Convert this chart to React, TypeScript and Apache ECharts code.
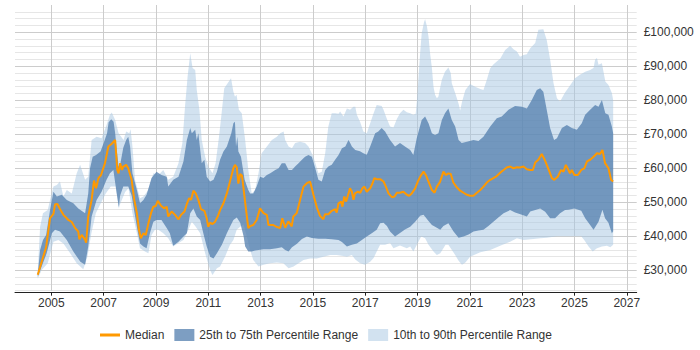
import React, { useEffect, useRef } from "react";
import * as echarts from "echarts";

// Salary percentiles over time, values in £ thousands, points are [year, value].
const medianPts: number[][] = [
  [2004.48, 28.7], [2004.63, 32.5], [2004.8, 36.8], [2004.95, 45.3], [2005.08, 46.6], [2005.14, 49.4], [2005.23, 49.5],
  [2005.33, 48.0], [2005.46, 46.3], [2005.59, 45.3], [2005.65, 44.8], [2005.78, 44.2], [2005.91, 42.4], [2006.03, 41.4],
  [2006.07, 39.1], [2006.16, 40.4], [2006.29, 39.0], [2006.33, 38.1], [2006.41, 45.8], [2006.54, 50.7], [2006.63, 56.4],
  [2006.71, 54.1], [2006.8, 57.1], [2006.9, 58.0], [2007.05, 61.5], [2007.18, 66.4], [2007.31, 67.2], [2007.44, 68.3],
  [2007.52, 59.5], [2007.57, 58.5], [2007.63, 61.5], [2007.7, 59.5], [2007.75, 60.5], [2007.86, 61.0], [2007.94, 60.0],
  [2008.07, 56.6], [2008.17, 50.7], [2008.27, 46.8], [2008.35, 41.9], [2008.42, 39.4], [2008.52, 40.9], [2008.61, 40.4],
  [2008.71, 43.8], [2008.81, 46.8], [2008.9, 48.7], [2008.99, 48.9], [2009.07, 50.4], [2009.2, 48.9], [2009.32, 48.2],
  [2009.41, 48.7], [2009.47, 45.8], [2009.6, 47.3], [2009.73, 46.3], [2009.86, 45.0], [2009.96, 46.3], [2010.09, 47.3],
  [2010.18, 49.5], [2010.27, 51.2], [2010.34, 50.7], [2010.43, 53.4], [2010.52, 52.6], [2010.62, 50.7], [2010.72, 48.0],
  [2010.85, 47.5], [2010.94, 45.3], [2011.0, 42.8], [2011.07, 44.0], [2011.16, 43.6], [2011.26, 44.3], [2011.36, 45.8],
  [2011.45, 47.7], [2011.58, 49.7], [2011.71, 52.6], [2011.83, 56.1], [2011.96, 60.0], [2012.02, 61.0], [2012.09, 60.3],
  [2012.15, 55.5], [2012.22, 58.3], [2012.29, 57.8], [2012.41, 50.0], [2012.53, 42.4], [2012.6, 43.0], [2012.72, 43.3],
  [2012.85, 44.8], [2012.98, 48.2], [2013.11, 46.8], [2013.24, 46.3], [2013.3, 43.3], [2013.49, 43.3], [2013.6, 42.8],
  [2013.75, 42.4], [2013.83, 45.3], [2013.94, 42.5], [2014.06, 44.4], [2014.19, 42.9], [2014.25, 45.8], [2014.38, 46.8],
  [2014.51, 50.7], [2014.64, 54.6], [2014.77, 55.6], [2014.89, 56.1], [2014.96, 54.1], [2015.02, 52.2], [2015.15, 48.5],
  [2015.27, 46.0], [2015.4, 45.0], [2015.46, 46.5], [2015.59, 46.5], [2015.72, 47.5], [2015.85, 48.0], [2015.91, 47.0],
  [2015.98, 49.7], [2016.08, 50.2], [2016.13, 48.7], [2016.2, 51.7], [2016.27, 50.2], [2016.36, 52.6], [2016.42, 54.1],
  [2016.49, 53.1], [2016.55, 50.7], [2016.61, 52.6], [2016.72, 53.1], [2016.81, 52.8], [2016.89, 54.1], [2016.97, 54.6],
  [2017.06, 53.1], [2017.19, 54.1], [2017.28, 55.6], [2017.35, 57.1], [2017.44, 56.8], [2017.57, 56.8], [2017.7, 56.1],
  [2017.79, 54.6], [2017.89, 52.6], [2018.02, 51.5], [2018.12, 51.7], [2018.21, 52.8], [2018.33, 52.8], [2018.46, 53.1],
  [2018.59, 52.2], [2018.68, 51.9], [2018.78, 52.6], [2018.91, 54.1], [2019.01, 56.1], [2019.14, 58.0], [2019.23, 59.0],
  [2019.32, 58.0], [2019.42, 56.1], [2019.55, 53.6], [2019.65, 52.8], [2019.74, 54.6], [2019.86, 56.0], [2019.99, 59.0],
  [2020.09, 58.0], [2020.18, 58.5], [2020.27, 58.3], [2020.37, 55.8], [2020.5, 54.4], [2020.63, 53.4], [2020.76, 52.8],
  [2020.89, 52.2], [2021.01, 51.9], [2021.14, 51.9], [2021.27, 52.8], [2021.4, 53.6], [2021.52, 54.6], [2021.65, 55.8],
  [2021.78, 56.6], [2021.9, 57.1], [2022.03, 57.7], [2022.16, 58.7], [2022.29, 59.5], [2022.41, 60.2], [2022.54, 60.5],
  [2022.67, 60.0], [2022.8, 60.3], [2022.92, 60.2], [2023.05, 60.5], [2023.18, 59.7], [2023.31, 59.5], [2023.41, 59.5],
  [2023.5, 61.7], [2023.62, 62.5], [2023.75, 64.2], [2023.88, 62.2], [2024.01, 59.7], [2024.14, 57.1], [2024.23, 56.6],
  [2024.36, 57.5], [2024.49, 59.5], [2024.58, 59.0], [2024.67, 61.0], [2024.77, 59.5], [2024.83, 58.5], [2024.9, 59.5],
  [2025.0, 58.0], [2025.13, 58.0], [2025.26, 59.5], [2025.38, 60.0], [2025.48, 62.0], [2025.6, 62.5], [2025.73, 63.4],
  [2025.86, 64.4], [2025.98, 64.2], [2026.07, 65.4], [2026.17, 61.5], [2026.3, 60.0], [2026.4, 56.6], [2026.48, 56.1],
];

const p75Pts: number[][] = [
  [2004.48, 28.8], [2004.57, 36.0], [2004.68, 38.9], [2004.8, 40.4], [2004.95, 47.7], [2005.08, 53.1], [2005.21, 51.7],
  [2005.4, 52.2], [2005.59, 50.7], [2005.84, 49.7], [2006.03, 48.2], [2006.29, 46.8], [2006.41, 52.6], [2006.48, 60.0],
  [2006.58, 63.4], [2006.71, 63.9], [2006.88, 64.9], [2007.0, 67.4], [2007.13, 70.3], [2007.19, 73.5], [2007.29, 74.4],
  [2007.38, 73.7], [2007.44, 70.3], [2007.5, 65.4], [2007.57, 60.5], [2007.63, 61.0], [2007.75, 66.0], [2007.86, 68.3],
  [2007.94, 69.3], [2008.01, 66.4], [2008.1, 58.5], [2008.27, 53.6], [2008.39, 49.7], [2008.52, 50.7], [2008.64, 52.2],
  [2008.83, 57.1], [2009.02, 59.0], [2009.21, 58.0], [2009.41, 57.5], [2009.47, 54.6], [2009.66, 56.6], [2009.86, 57.5],
  [2010.05, 62.0], [2010.18, 68.3], [2010.31, 71.8], [2010.37, 70.3], [2010.5, 71.3], [2010.56, 68.3], [2010.62, 70.3],
  [2010.75, 61.5], [2010.85, 62.5], [2010.94, 57.5], [2011.07, 56.1], [2011.2, 56.6], [2011.33, 59.0], [2011.45, 62.5],
  [2011.58, 64.9], [2011.71, 66.4], [2011.88, 70.3], [2011.96, 73.2], [2012.02, 73.7], [2012.06, 66.4], [2012.11, 69.3],
  [2012.15, 64.9], [2012.25, 63.4], [2012.39, 56.6], [2012.53, 53.6], [2012.6, 52.6], [2012.72, 52.6], [2012.85, 54.6],
  [2012.98, 57.5], [2013.11, 57.1], [2013.24, 58.0], [2013.37, 58.5], [2013.56, 59.5], [2013.69, 60.0], [2013.81, 61.5],
  [2013.94, 61.5], [2014.07, 59.5], [2014.2, 59.5], [2014.32, 60.5], [2014.45, 61.5], [2014.58, 62.5], [2014.7, 63.4],
  [2014.83, 63.9], [2014.96, 63.4], [2015.09, 60.0], [2015.21, 56.6], [2015.34, 56.1], [2015.47, 59.5], [2015.59, 60.5],
  [2015.72, 61.0], [2015.85, 62.5], [2015.98, 63.9], [2016.11, 65.9], [2016.24, 66.4], [2016.36, 68.3], [2016.42, 67.5],
  [2016.49, 66.4], [2016.62, 65.4], [2016.8, 65.0], [2016.93, 64.4], [2017.06, 64.0], [2017.19, 66.4], [2017.38, 70.3],
  [2017.5, 70.8], [2017.63, 71.8], [2017.76, 70.8], [2017.95, 68.3], [2018.14, 66.4], [2018.33, 67.4], [2018.52, 66.4],
  [2018.72, 65.4], [2018.84, 63.9], [2018.97, 68.8], [2019.16, 74.2], [2019.29, 75.2], [2019.42, 73.2], [2019.55, 70.3],
  [2019.67, 69.8], [2019.8, 70.3], [2019.93, 74.2], [2020.05, 76.2], [2020.18, 77.6], [2020.31, 74.2], [2020.44, 72.3],
  [2020.57, 68.3], [2020.69, 67.4], [2020.89, 67.8], [2021.14, 68.3], [2021.33, 68.0], [2021.52, 69.3], [2021.78, 72.3],
  [2022.03, 74.7], [2022.22, 75.2], [2022.48, 77.2], [2022.73, 78.3], [2022.99, 78.1], [2023.18, 77.6], [2023.37, 80.1],
  [2023.56, 83.0], [2023.69, 83.5], [2023.81, 82.5], [2023.94, 77.2], [2024.07, 71.8], [2024.22, 68.3], [2024.33, 68.8],
  [2024.52, 71.8], [2024.71, 72.7], [2024.9, 71.8], [2025.09, 71.3], [2025.28, 73.2], [2025.41, 75.7], [2025.6, 77.2],
  [2025.79, 78.6], [2025.92, 78.1], [2026.05, 80.1], [2026.18, 76.2], [2026.3, 75.7], [2026.43, 72.3], [2026.48, 70.3],
];

const p25Pts: number[][] = [
  [2004.48, 28.1], [2004.63, 31.1], [2004.82, 35.0], [2005.02, 40.9], [2005.14, 41.9], [2005.33, 41.4], [2005.59, 38.9],
  [2005.84, 35.5], [2006.11, 32.5], [2006.29, 31.6], [2006.41, 37.0], [2006.54, 45.8], [2006.73, 50.7], [2006.92, 53.1],
  [2007.11, 56.6], [2007.24, 58.5], [2007.37, 59.5], [2007.5, 52.6], [2007.58, 48.5], [2007.63, 52.0], [2007.75, 54.6],
  [2007.94, 54.6], [2008.07, 52.0], [2008.14, 48.7], [2008.27, 42.8], [2008.39, 37.9], [2008.52, 37.0], [2008.64, 36.5],
  [2008.77, 40.9], [2008.9, 44.3], [2009.02, 44.8], [2009.21, 44.8], [2009.41, 42.4], [2009.53, 40.9], [2009.66, 37.2],
  [2009.86, 38.4], [2010.05, 39.9], [2010.18, 40.9], [2010.31, 46.8], [2010.43, 48.2], [2010.56, 45.8], [2010.69, 44.8],
  [2010.81, 40.9], [2010.94, 37.0], [2011.07, 34.0], [2011.2, 33.5], [2011.33, 35.0], [2011.52, 37.5], [2011.71, 40.9],
  [2011.83, 42.8], [2011.96, 44.8], [2012.09, 45.5], [2012.22, 44.0], [2012.35, 40.0], [2012.41, 37.0], [2012.53, 35.5],
  [2012.66, 35.5], [2012.79, 35.8], [2012.92, 36.0], [2013.11, 36.2], [2013.36, 36.2], [2013.62, 36.5], [2013.81, 36.8],
  [2013.94, 36.0], [2014.07, 35.5], [2014.2, 36.8], [2014.39, 37.8], [2014.58, 39.2], [2014.77, 39.9], [2014.96, 39.5],
  [2015.21, 39.3], [2015.47, 39.3], [2015.72, 39.1], [2015.98, 38.9], [2016.11, 38.3], [2016.3, 37.0], [2016.49, 37.5],
  [2016.68, 37.9], [2016.87, 38.9], [2017.06, 39.9], [2017.25, 40.9], [2017.44, 41.9], [2017.57, 43.8], [2017.7, 44.0],
  [2017.83, 43.0], [2017.95, 41.4], [2018.14, 39.9], [2018.33, 41.0], [2018.52, 42.0], [2018.72, 42.8], [2018.91, 44.3],
  [2019.1, 46.0], [2019.23, 46.3], [2019.42, 44.5], [2019.55, 43.3], [2019.74, 42.5], [2019.87, 41.9], [2019.99, 43.0],
  [2020.18, 43.8], [2020.37, 41.5], [2020.57, 39.6], [2020.76, 39.9], [2020.95, 40.5], [2021.14, 41.4], [2021.33, 41.7],
  [2021.52, 41.9], [2021.71, 43.0], [2021.9, 44.3], [2022.09, 45.5], [2022.29, 46.8], [2022.54, 47.7], [2022.73, 47.0],
  [2022.99, 46.3], [2023.18, 45.8], [2023.31, 47.3], [2023.69, 48.2], [2023.88, 47.2], [2024.07, 45.3], [2024.26, 45.3],
  [2024.45, 46.8], [2024.64, 47.7], [2024.77, 47.8], [2025.0, 48.2], [2025.26, 47.5], [2025.41, 45.3], [2025.6, 43.3],
  [2025.73, 41.9], [2025.92, 44.3], [2026.07, 47.8], [2026.17, 45.3], [2026.3, 44.0], [2026.43, 40.9], [2026.48, 41.5],
];

const p10Pts: number[][] = [
  [2004.48, 27.6], [2004.63, 30.1], [2004.86, 32.1], [2005.08, 38.4], [2005.27, 38.9], [2005.46, 37.9], [2005.72, 35.0],
  [2005.97, 32.1], [2006.22, 30.3], [2006.38, 34.0], [2006.53, 40.9], [2006.7, 46.8], [2006.89, 49.7], [2007.08, 52.6],
  [2007.27, 54.6], [2007.46, 54.6], [2007.58, 48.2], [2007.63, 49.5], [2007.82, 53.0], [2007.95, 54.1], [2008.1, 46.8],
  [2008.27, 40.9], [2008.39, 36.5], [2008.58, 35.5], [2008.71, 35.0], [2008.83, 40.4], [2008.96, 41.9], [2009.09, 41.9],
  [2009.28, 40.9], [2009.47, 39.4], [2009.66, 37.0], [2009.86, 38.0], [2010.05, 38.9], [2010.24, 41.9], [2010.37, 44.3],
  [2010.52, 42.8], [2010.69, 40.9], [2010.88, 35.0], [2011.07, 30.1], [2011.16, 28.6], [2011.33, 30.6], [2011.45, 31.1],
  [2011.64, 34.0], [2011.83, 37.5], [2011.96, 38.9], [2012.09, 42.0], [2012.22, 42.8], [2012.35, 43.5], [2012.47, 40.0],
  [2012.6, 36.0], [2012.72, 33.0], [2012.92, 31.1], [2013.11, 31.6], [2013.36, 32.1], [2013.62, 32.3], [2013.87, 32.1],
  [2014.07, 30.6], [2014.26, 31.1], [2014.45, 32.1], [2014.64, 33.0], [2014.89, 33.5], [2015.15, 33.5], [2015.4, 34.0],
  [2015.66, 34.5], [2015.91, 34.5], [2016.11, 34.3], [2016.3, 34.0], [2016.49, 34.5], [2016.62, 33.2], [2016.81, 32.1],
  [2016.99, 31.6], [2017.19, 32.5], [2017.32, 33.6], [2017.44, 35.5], [2017.57, 37.5], [2017.76, 37.5], [2017.95, 38.0],
  [2018.08, 36.5], [2018.33, 37.3], [2018.59, 36.5], [2018.72, 37.0], [2018.84, 35.5], [2019.01, 38.0], [2019.14, 39.9],
  [2019.29, 39.4], [2019.42, 37.5], [2019.61, 35.5], [2019.74, 34.5], [2019.87, 35.0], [2020.07, 37.5], [2020.18, 37.5],
  [2020.27, 36.5], [2020.44, 34.5], [2020.57, 32.8], [2020.7, 31.6], [2020.83, 32.3], [2021.01, 34.0], [2021.4, 35.3],
  [2021.78, 36.0], [2022.16, 37.2], [2022.54, 38.4], [2022.8, 39.4], [2023.05, 38.9], [2023.43, 39.2], [2023.69, 39.4],
  [2023.94, 39.6], [2024.33, 40.0], [2024.58, 40.0], [2024.83, 40.0], [2025.07, 40.0], [2025.26, 40.0], [2025.38, 38.8],
  [2025.54, 37.0], [2025.7, 35.5], [2025.86, 36.5], [2026.05, 37.0], [2026.24, 37.2], [2026.37, 36.8], [2026.48, 37.5],
];

const p90Pts: number[][] = [
  [2004.48, 29.6], [2004.57, 42.8], [2004.68, 46.8], [2004.86, 47.7], [2004.95, 50.7], [2005.08, 54.6], [2005.21, 55.1],
  [2005.33, 56.1], [2005.46, 51.7], [2005.59, 53.6], [2005.78, 52.6], [2005.97, 58.5], [2006.1, 61.0], [2006.29, 56.6],
  [2006.41, 57.5], [2006.54, 68.3], [2006.73, 69.3], [2006.92, 68.8], [2007.11, 72.7], [2007.24, 75.7], [2007.31, 76.4],
  [2007.44, 74.2], [2007.57, 70.3], [2007.76, 68.3], [2007.86, 70.8], [2007.98, 70.3], [2008.03, 71.5], [2008.1, 66.4],
  [2008.2, 56.6], [2008.39, 51.2], [2008.52, 51.7], [2008.71, 53.6], [2008.9, 58.5], [2009.09, 58.0], [2009.28, 59.5],
  [2009.47, 56.6], [2009.66, 57.5], [2009.86, 61.5], [2010.01, 67.4], [2010.11, 78.1], [2010.21, 87.0], [2010.31, 93.8],
  [2010.4, 89.5], [2010.5, 88.9], [2010.56, 83.0], [2010.66, 77.2], [2010.75, 68.3], [2010.88, 63.4], [2011.0, 60.5],
  [2011.16, 58.5], [2011.28, 61.5], [2011.41, 69.3], [2011.51, 76.2], [2011.61, 83.5], [2011.74, 85.0], [2011.87, 86.5],
  [2011.96, 82.5], [2012.02, 81.0], [2012.08, 81.6], [2012.17, 77.2], [2012.28, 76.2], [2012.41, 68.3], [2012.53, 59.5],
  [2012.66, 52.6], [2012.79, 53.6], [2012.92, 58.5], [2013.04, 64.4], [2013.24, 66.4], [2013.43, 68.3], [2013.62, 69.3],
  [2013.75, 70.3], [2013.88, 70.8], [2013.94, 68.3], [2014.07, 66.4], [2014.2, 65.9], [2014.32, 67.4], [2014.51, 67.8],
  [2014.7, 67.4], [2014.83, 66.4], [2015.02, 63.4], [2015.21, 58.5], [2015.34, 59.0], [2015.47, 64.4], [2015.59, 72.3],
  [2015.72, 76.2], [2015.85, 76.2], [2015.98, 76.0], [2016.04, 76.7], [2016.17, 75.2], [2016.3, 77.6], [2016.42, 77.2],
  [2016.55, 78.1], [2016.62, 78.1], [2016.68, 75.7], [2016.81, 73.5], [2016.93, 70.8], [2017.06, 70.3], [2017.19, 73.2],
  [2017.32, 76.2], [2017.44, 78.6], [2017.63, 78.3], [2017.7, 77.2], [2017.83, 74.5], [2017.95, 72.3], [2018.08, 72.0],
  [2018.21, 74.5], [2018.33, 76.2], [2018.46, 77.2], [2018.59, 76.5], [2018.72, 76.2], [2018.84, 75.7], [2018.93, 76.0],
  [2018.98, 80.1], [2019.04, 87.0], [2019.1, 93.8], [2019.16, 99.7], [2019.25, 103.0], [2019.29, 103.8], [2019.36, 101.7],
  [2019.42, 98.7], [2019.48, 93.8], [2019.55, 89.5], [2019.61, 84.0], [2019.67, 81.6], [2019.74, 80.6], [2019.8, 81.1],
  [2019.86, 83.5], [2019.93, 86.0], [2020.05, 88.4], [2020.18, 89.6], [2020.27, 88.0], [2020.31, 85.0], [2020.44, 82.1],
  [2020.57, 79.0], [2020.63, 77.0], [2020.7, 79.5], [2020.83, 83.0], [2021.01, 84.8], [2021.2, 84.0], [2021.4, 83.3],
  [2021.52, 83.0], [2021.65, 86.0], [2021.78, 89.4], [2021.9, 90.5], [2022.03, 91.4], [2022.16, 92.2], [2022.35, 94.8],
  [2022.54, 96.0], [2022.67, 95.0], [2022.8, 94.3], [2022.92, 92.8], [2023.05, 93.3], [2023.18, 93.5], [2023.31, 95.3],
  [2023.5, 96.8], [2023.62, 100.7], [2023.81, 100.9], [2023.94, 97.7], [2024.07, 92.0], [2024.2, 85.0], [2024.33, 80.6],
  [2024.45, 79.6], [2024.64, 82.3], [2024.83, 84.3], [2025.02, 86.5], [2025.21, 87.5], [2025.41, 88.4], [2025.6, 88.9],
  [2025.73, 89.5], [2025.79, 91.9], [2025.86, 92.4], [2025.92, 90.4], [2026.05, 90.9], [2026.18, 85.5], [2026.3, 84.5],
  [2026.43, 82.1], [2026.48, 80.1],
];

const yearTicks = [2005, 2007, 2009, 2011, 2013, 2015, 2017, 2019, 2021, 2023, 2025, 2027];
const legendNames = ["Median", "25th to 75th Percentile Range", "10th to 90th Percentile Range"];

const FONT = "'Liberation Sans', Arial, Helvetica, sans-serif";
const LIGHT = "rgba(166,197,226,0.5)";
const DARK = "rgba(81,125,173,0.75)";
const ORANGE = "#ff9900";

// Legend glyph for the median: a short thick bar, with hair-thin corner specks so it keeps a 20x12 box
const LINE_ICON =
  "path://M0,0 L0.01,0 L0,0.01 Z M0,4.6 L20,4.6 L20,7.4 L0,7.4 Z M20,12 L19.99,12 L20,11.99 Z";

// y axis runs 24k..108k in 2k steps; every 10k line is stronger, the top edge has none
const Y_MIN = 24;
const Y_MAX = 108;
const Y_STEP = 2;
const splitColors: string[] = [];
for (let v = Y_MIN; v <= Y_MAX; v += Y_STEP) {
  if (v === Y_MAX) splitColors.push("rgba(0,0,0,0)");
  else if (v % 10 === 0) splitColors.push("#cccccc");
  else splitColors.push("#e6e6e6");
}

function bandSeries(name: string, upper: number[][], lower: number[][], color: string, z: number) {
  return {
    type: "custom",
    name,
    z,
    silent: true,
    itemStyle: { color },
    data: [[upper[0][0], upper[0][1]]],
    renderItem: (_params: any, api: any) => {
      const pts: number[][] = [];
      upper.forEach((p) => pts.push(api.coord(p)));
      for (let i = lower.length - 1; i >= 0; i--) pts.push(api.coord(lower[i]));
      return { type: "polygon", shape: { points: pts }, style: { fill: color } };
    },
  };
}

export default function App() {
  const ref = useRef<HTMLDivElement>(null);

  useEffect(() => {
    if (!ref.current) return;
    const chart = echarts.init(ref.current, undefined, { renderer: "svg" });
    chart.setOption({
      animation: false,
      textStyle: { fontFamily: FONT },
      grid: { left: 15, right: 63.3, top: 5, bottom: 59.3, containLabel: false, outerBoundsMode: "none" },
      legend: {
        left: 100,
        top: 329,
        padding: 0,
        itemWidth: 20,
        itemHeight: 12,
        itemGap: 10,
        textStyle: { fontSize: 12, color: "#333", fontFamily: FONT },
        data: [
          { name: legendNames[0], icon: LINE_ICON, itemStyle: { color: ORANGE } },
          { name: legendNames[1], icon: "rect" },
          { name: legendNames[2], icon: "rect" },
        ],
      },
      xAxis: {
        type: "value",
        min: 2003.61,
        max: 2027.38,
        offset: 2,
        axisLine: { show: true, lineStyle: { color: "#222", width: 1 } },
        axisTick: { show: true, length: 3, customValues: yearTicks, lineStyle: { color: "#222" } },
        axisLabel: {
          customValues: yearTicks,
          margin: 4,
          fontSize: 12,
          color: "#333",
          fontFamily: FONT,
          formatter: (v: number) => String(Math.round(v)),
        },
        splitLine: { show: true, lineStyle: { color: "#cccccc", width: 1 } },
      },
      yAxis: {
        type: "value",
        position: "right",
        min: Y_MIN,
        max: Y_MAX,
        interval: Y_STEP,
        axisLine: { show: false },
        axisTick: { show: false },
        axisLabel: {
          margin: 7,
          fontSize: 12,
          color: "#333",
          fontFamily: FONT,
          formatter: (v: number) => {
            const r = Math.round(v);
            return r % 10 === 0 && r >= 30 && r <= 100 ? `£${r},000` : "";
          },
        },
        splitLine: { show: true, lineStyle: { color: splitColors, width: 1 } },
      },
      series: [
        bandSeries(legendNames[2], p90Pts, p10Pts, LIGHT, 1),
        bandSeries(legendNames[1], p75Pts, p25Pts, DARK, 2),
        {
          type: "line",
          name: legendNames[0],
          data: medianPts,
          z: 3,
          symbol: "none",
          showSymbol: false,
          lineStyle: { color: ORANGE, width: 2 },
          itemStyle: { color: ORANGE },
        },
      ],
    });
    return () => chart.dispose();
  }, []);

  return (
    <div
      ref={ref}
      style={{ position: "absolute", left: 0, top: 0, width: 700, height: 350 }}
    />
  );
}
